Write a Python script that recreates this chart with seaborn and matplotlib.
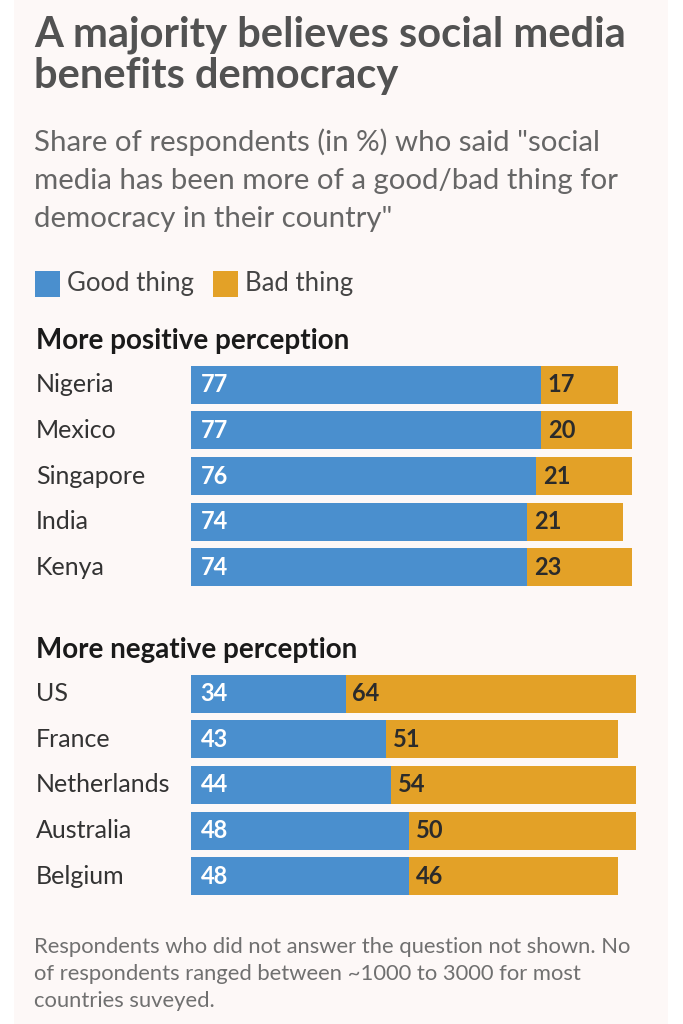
import matplotlib
matplotlib.use("Agg")
import matplotlib.pyplot as plt
import matplotlib.patches as mpatches
import seaborn as sns
import pandas as pd

# data
pos_countries = ["Nigeria", "Mexico", "Singapore", "India", "Kenya"]
pos_good = [77, 77, 76, 74, 74]
pos_bad = [17, 20, 21, 21, 23]

neg_countries = ["US", "France", "Netherlands", "Australia", "Belgium"]
neg_good = [34, 43, 44, 48, 48]
neg_bad = [64, 51, 54, 50, 46]

title_lines = ["A majority believes social media", "benefits democracy"]
subtitle_lines = ['Share of respondents (in %) who said "social',
                  'media has been more of a good/bad thing for',
                  'democracy in their country"']
note_lines = ["Respondents who did not answer the question not shown. No",
              "of respondents ranged between ~1000 to 3000 for most",
              "countries suveyed."]

BLUE = "#4a8fce"
ORANGE = "#e3a127"
BG = "#fdf8f7"
FONT = "Lato"

sns.set_theme(style="white")
plt.rcParams["font.family"] = [FONT, "DejaVu Sans"]

W, H = 683, 1024
fig = plt.figure(figsize=(W / 100, H / 100), dpi=100)
fig.patch.set_facecolor("white")
# light panel behind everything
fig.patches.append(mpatches.Rectangle((14 / W, 0), (668 - 14) / W, 1,
                                      transform=fig.transFigure,
                                      facecolor=BG, edgecolor="none", zorder=-1))


def px(x, y):
    return x / W, 1 - y / H


def draw_group(ax, countries, good, bad):
    df = pd.DataFrame({"country": countries, "good": good, "bad": bad})
    df["total"] = df["good"] + df["bad"]
    sns.barplot(data=df, y="country", x="total", color=ORANGE, saturation=1,
                orient="h", width=0.83, linewidth=0, ax=ax)
    sns.barplot(data=df, y="country", x="good", color=BLUE, saturation=1,
                orient="h", width=0.83, linewidth=0, ax=ax)
    ax.set_xlim(0, 100)
    ax.set_facecolor("none")
    ax.set_xlabel("")
    ax.set_ylabel("")
    ax.set_xticks([])
    ax.set_yticks([])
    sns.despine(ax=ax, left=True, bottom=True)
    for i, r in df.iterrows():
        ax.annotate(str(r["good"]), (0, i), xytext=(7, 0), textcoords="offset points",
                    ha="left", va="center", color="white", fontsize=17,
                    fontweight="bold")
        ax.annotate(str(r["bad"]), (r["good"], i), xytext=(5, 0),
                    textcoords="offset points", ha="left", va="center",
                    color="#2b2b2b", fontsize=17, fontweight="bold")
        ax.text(-155 / 454.5, i, r["country"], transform=ax.get_yaxis_transform(),
                ha="left", va="center", fontsize=18, color="#333333")


left = 191 / W
width = 454.5 / W
ax1 = fig.add_axes([left, 1 - 590 / H, width, 228 / H])
draw_group(ax1, pos_countries, pos_good, pos_bad)
ax2 = fig.add_axes([left, 1 - 899 / H, width, 228 / H])
draw_group(ax2, neg_countries, neg_good, neg_bad)

# titles
for line, yb in zip(title_lines, [46, 88]):
    fig.text(*px(34, yb), line, ha="left", va="baseline", fontsize=30,
             fontweight="bold", color="#525252")
for line, yb in zip(subtitle_lines, [151, 189, 227]):
    fig.text(*px(34, yb), line, ha="left", va="baseline", fontsize=21.2,
             color="#666666")

# legend
for x0, col, lab in [(35, BLUE, "Good thing"), (213, ORANGE, "Bad thing")]:
    fig.patches.append(mpatches.Rectangle(px(x0, 297), 25 / W, 26 / H,
                                          transform=fig.transFigure,
                                          facecolor=col, edgecolor="none"))
    fig.text(*px(x0 + 32, 284), lab, ha="left", va="center", fontsize=18.5,
             color="#444444")

fig.text(*px(36, 341), "More positive perception", ha="left", va="center",
         fontsize=20, fontweight="bold", color="#1a1a1a")
fig.text(*px(36, 650), "More negative perception", ha="left", va="center",
         fontsize=20, fontweight="bold", color="#1a1a1a")

for line, yb in zip(note_lines, [953, 980, 1007]):
    fig.text(*px(34, yb), line, ha="left", va="baseline", fontsize=15.8,
             color="#707070")

fig.savefig("out.png", dpi=100, facecolor=fig.get_facecolor())
